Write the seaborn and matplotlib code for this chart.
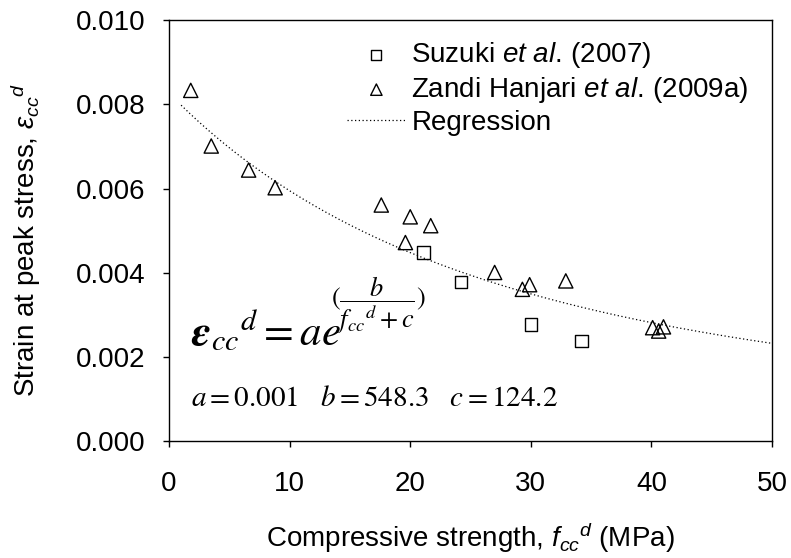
import numpy as np
import pandas as pd
import matplotlib
matplotlib.use("Agg")
import matplotlib.pyplot as plt
import seaborn as sns

# ---- data ----
suzuki_f = [21.1, 24.2, 30.0, 34.2]
suzuki_eps = [0.00448, 0.00379, 0.00278, 0.00239]

zandi_f = [1.8, 3.5, 6.6, 8.8, 17.6, 20.0, 21.7, 19.6, 27.0, 29.3, 29.9, 32.9, 40.1, 40.6, 41.0]
zandi_eps = [0.00833, 0.00701, 0.00644, 0.00602, 0.00561, 0.00533, 0.00512, 0.00472,
             0.00401, 0.00361, 0.00372, 0.00381, 0.00270, 0.00262, 0.00272]

# regression parameters (curve eps = a*exp(b/(f+c)); plotted scale a_fit)
a_fit = 0.0001
b_par = 548.3
c_par = 124.2
reg_f = np.linspace(1.0, 50.0, 200)
reg_eps = a_fit * np.exp(b_par / (reg_f + c_par))

x_ticks = [0, 10, 20, 30, 40, 50]
y_ticks = [0.000, 0.002, 0.004, 0.006, 0.008, 0.010]

sns.set_style("ticks")
plt.rcParams['font.family'] = ['Liberation Sans', 'DejaVu Sans']
plt.rcParams['mathtext.fontset'] = 'custom'
plt.rcParams['mathtext.rm'] = 'Liberation Sans'
plt.rcParams['mathtext.it'] = 'Liberation Sans:italic'
plt.rcParams['mathtext.bf'] = 'Liberation Sans:bold'
for k in ['text.color', 'axes.labelcolor', 'xtick.color', 'ytick.color', 'axes.edgecolor']:
    plt.rcParams[k] = 'black'

fig = plt.figure(figsize=(7.91, 5.58), dpi=100)
ax = fig.add_axes([0.2137, 0.2088, 0.7623, 0.7554])

df_s = pd.DataFrame({"f": suzuki_f, "eps": suzuki_eps})
df_z = pd.DataFrame({"f": zandi_f, "eps": zandi_eps})
df_r = pd.DataFrame({"f": reg_f, "eps": reg_eps})

sns.scatterplot(data=df_s, x="f", y="eps", marker="s", s=80, facecolor="none",
                edgecolor="black", linewidth=1.0, ax=ax,
                label=r"Suzuki $\mathit{et\ al.}\,$(2007)", zorder=3)
sns.scatterplot(data=df_z, x="f", y="eps", marker="^", s=105, facecolor="none",
                edgecolor="black", linewidth=1.0, ax=ax,
                label=r"Zandi Hanjari $\mathit{et\ al.}\,$(2009a)", zorder=3)
sns.lineplot(data=df_r, x="f", y="eps", color="black", linestyle=(0, (1, 2)),
             linewidth=0.9, ax=ax, label="Regression")

ax.set_xlim(0, 50)
ax.set_ylim(0, 0.010)
ax.set_xticks(x_ticks)
ax.set_yticks(y_ticks)
ax.set_xticklabels([f"{t}" for t in x_ticks])
ax.set_yticklabels([f"{t:.3f}" for t in y_ticks])
ax.tick_params(axis='both', direction='out', length=4, width=1, labelsize=20,
               colors='black')
ax.tick_params(axis='x', pad=17)
ax.tick_params(axis='y', pad=13)

for sp in ax.spines.values():
    sp.set_visible(True)
    sp.set_color("black")
    sp.set_linewidth(1.0)

ax.set_xlabel(r"Compressive strength, $f_{cc}{}^{d}$ (MPa)", fontsize=20)
ax.set_ylabel(r"Strain at peak stress, $\varepsilon_{cc}{}^{d}$", fontsize=20)
ax.xaxis.set_label_coords(0.5, -0.188)
ax.yaxis.set_label_coords(-0.209, 0.478)

leg = ax.legend(loc="upper left", bbox_to_anchor=(0.295, 0.952), frameon=False,
                fontsize=20, handlelength=2.12, handletextpad=0.2, labelspacing=0.17,
                borderpad=0, borderaxespad=0, markerscale=0.8)

eq_main = ax.text(0.037, 0.228,
                  r"$\mathbfit{\varepsilon}_{cc}{}^{d} = ae$",
                  transform=ax.transAxes, fontsize=31, ha="left", va="baseline",
                  math_fontfamily="stix")
ax.text(0.2692, 0.321,
        r"$(\dfrac{b}{f_{cc}{}^{d}+c})$",
        transform=ax.transAxes, fontsize=19, ha="left", va="baseline",
        math_fontfamily="stix")
ax.text(0.037, 0.084,
        r"$a = 0.001\quad b = 548.3\quad c = 124.2$",
        transform=ax.transAxes, fontsize=21, ha="left", va="baseline",
        math_fontfamily="stix")

try:
    fig.savefig("out.png", dpi=100)
except Exception:
    eq_main.set_text(r"$\boldsymbol{\varepsilon}_{cc}{}^{d} = ae$")
    fig.savefig("out.png", dpi=100)
